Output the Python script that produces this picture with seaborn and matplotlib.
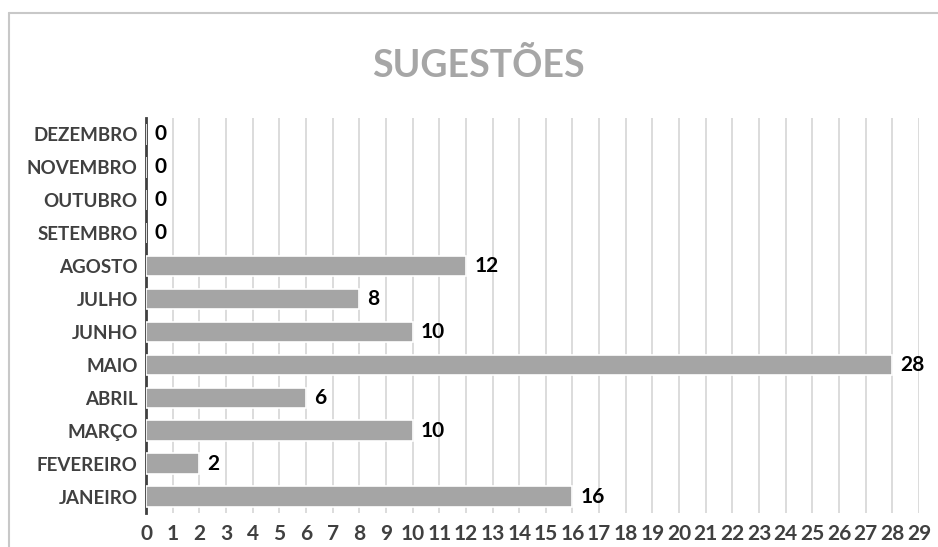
import seaborn as sns
import matplotlib.pyplot as plt
import pandas as pd
from matplotlib.lines import Line2D

meses = ['JANEIRO', 'FEVEREIRO', 'MARÇO', 'ABRIL', 'MAIO', 'JUNHO',
         'JULHO', 'AGOSTO', 'SETEMBRO', 'OUTUBRO', 'NOVEMBRO', 'DEZEMBRO']
sugestoes = [16, 2, 10, 6, 28, 10, 8, 12, 0, 0, 0, 0]

df = pd.DataFrame({'mes': meses, 'qtd': sugestoes})

sns.set_style('white')
plt.rcParams['font.family'] = ['Lato', 'DejaVu Sans']

fig = plt.figure(figsize=(9.38, 5.47), dpi=100)
ax = fig.add_axes([0.1557, 0.0622, 0.8240, 0.7221])

sns.barplot(data=df, x='qtd', y='mes', order=meses[::-1], orient='h',
            color='#A5A5A5', saturation=1, width=0.62,
            edgecolor='white', linewidth=1.2, zorder=3, ax=ax)

for c in ax.containers:
    ax.bar_label(c, padding=6, fontsize=15, fontweight='bold', color='black')

ax.set_xlim(0, 29)
ax.set_xticks(range(0, 30))
ax.xaxis.grid(True, color='#D9D9D9', linewidth=1.3, zorder=0)
ax.set_axisbelow(True)
ax.tick_params(axis='both', length=0, labelcolor='#404040')
ax.tick_params(axis='x', pad=8, labelsize=15)
ax.tick_params(axis='y', pad=6, labelsize=13.5)
for lab in ax.get_xticklabels() + ax.get_yticklabels():
    lab.set_fontweight('bold')
ax.set_xlabel('')
ax.set_ylabel('')

for s in ['top', 'right', 'bottom']:
    ax.spines[s].set_visible(False)
ax.spines['left'].set_color('#404040')
ax.spines['left'].set_linewidth(2)
ax.spines['left'].set_zorder(2)

fig.text(0.510, 0.880, 'SUGESTÕES', ha='center', va='center',
         fontsize=27, fontweight='bold', color='#A6A6A6')

# moldura do gráfico (só esquerda e topo aparecem)
fig.add_artist(Line2D([0.0096, 0.0096], [0, 0.976], transform=fig.transFigure,
                      color='#C8C8C8', linewidth=1.5))
fig.add_artist(Line2D([0.0096, 1], [0.976, 0.976], transform=fig.transFigure,
                      color='#C8C8C8', linewidth=1.5))

fig.savefig('out.png', dpi=100)
